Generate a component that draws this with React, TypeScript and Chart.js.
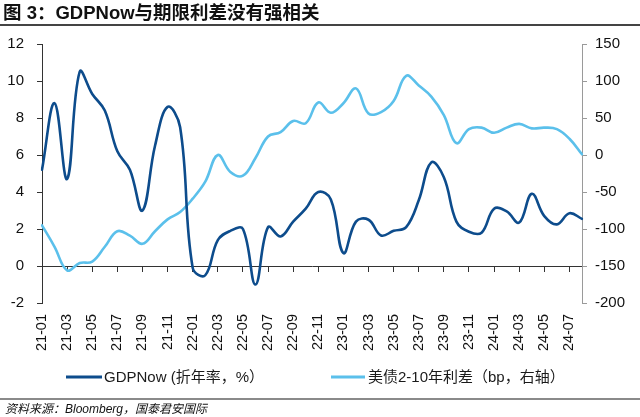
import React, { useEffect, useRef } from "react";
import { Chart, registerables } from "chart.js";

Chart.register(...registerables);

const FONT = "'Liberation Sans', Arial, 'Noto Sans CJK SC', sans-serif";

const months = [
  "21-01", "21-02", "21-03", "21-04", "21-05", "21-06", "21-07", "21-08", "21-09", "21-10", "21-11", "21-12",
  "22-01", "22-02", "22-03", "22-04", "22-05", "22-06", "22-07", "22-08", "22-09", "22-10", "22-11", "22-12",
  "23-01", "23-02", "23-03", "23-04", "23-05", "23-06", "23-07", "23-08", "23-09", "23-10", "23-11", "23-12",
  "24-01", "24-02", "24-03", "24-04", "24-05", "24-06", "24-07", "24-08",
];

const gdpNow = [
  5.2, 8.8, 4.7, 10.5, 9.3, 8.4, 6.2, 5.2, 3.0, 6.5, 8.6, 7.5,
  -0.1, -0.5, 1.4, 1.9, 2.0, -1.0, 2.1, 1.6, 2.4, 3.1, 4.0, 3.6,
  0.7, 2.4, 2.5, 1.65, 1.9, 2.1, 3.55, 5.6, 4.8, 2.4, 1.85, 1.8,
  3.1, 2.95, 2.35, 3.9, 2.7, 2.25, 2.85, 2.55,
];

const spread2s10s = [
  -95, -124, -156, -146, -144, -124, -103, -109, -120, -103, -87, -77,
  -59, -36, 0, -23, -28, -4, 25, 31, 46, 43, 71, 57,
  70, 90, 56, 58, 73, 107, 94, 79, 54, 16, 35, 37,
  30, 37, 42, 36, 37, 35, 22, 1,
];

const leftTicks = { min: -2, max: 12, step: 2 };
const rightTicks = { min: -200, max: 150, step: 50 };

const seriesNames = ["GDPNow (折年率，%）", "美债2-10年利差（bp，右轴）"];
const DARK = "#0D4C8C";
const LIGHT = "#5BC0EB";

const legendPlugin = {
  id: "customLegend",
  afterDraw(chart: any) {
    const ctx = chart.ctx;
    const pos = [
      { x: 66, w: 36, tx: 104 },
      { x: 331, w: 34, tx: 368 },
    ];
    const y = 377;
    ctx.save();
    chart.data.datasets.forEach((ds: any, i: number) => {
      const p = pos[i];
      ctx.strokeStyle = ds.borderColor;
      ctx.lineWidth = 3;
      ctx.beginPath();
      ctx.moveTo(p.x, y);
      ctx.lineTo(p.x + p.w, y);
      ctx.stroke();
      ctx.fillStyle = "#1a1a1a";
      ctx.font = `15px ${FONT}`;
      ctx.textBaseline = "middle";
      ctx.textAlign = "left";
      ctx.fillText(ds.label, p.tx, y + 1);
    });
    ctx.restore();
  },
};

export default function App() {
  const ref = useRef<HTMLCanvasElement>(null);

  useEffect(() => {
    const yFont = { family: FONT, size: 15 };
    const xFont = { family: FONT, size: 14.5 };
    const chart = new Chart(ref.current!, {
      type: "line",
      data: {
        labels: months,
        datasets: [
          {
            label: seriesNames[0],
            data: gdpNow,
            borderColor: DARK,
            backgroundColor: DARK,
            yAxisID: "y",
            xAxisID: "x",
          },
          {
            label: seriesNames[1],
            data: spread2s10s,
            borderColor: LIGHT,
            backgroundColor: LIGHT,
            yAxisID: "y1",
            xAxisID: "x",
          },
        ],
      },
      options: {
        animation: false,
        responsive: false,
        devicePixelRatio: 1,
        layout: { padding: { top: 44, bottom: 54, left: 0, right: 0 } },
        plugins: {
          legend: { display: false },
          tooltip: { enabled: false },
        },
        elements: {
          point: { radius: 0 },
          line: { tension: 0.4, borderWidth: 2.6, borderCapStyle: "round", borderJoinStyle: "round" },
        },
        scales: {
          x: {
            type: "category",
            position: "bottom",
            grid: { display: false, drawTicks: false },
            border: { display: false },
            ticks: {
              autoSkip: false,
              maxRotation: 90,
              minRotation: 90,
              padding: 11,
              font: xFont,
              color: "#111",
              callback: (_v: any, i: number) => (i % 2 === 0 ? months[i] : ""),
            },
            afterFit: (s: any) => {
              s.height = 60;
            },
          },
          x0: {
            type: "category",
            position: { y: 0 },
            ticks: { display: false, autoSkip: false },
            grid: {
              drawOnChartArea: false,
              drawTicks: true,
              tickLength: 5,
              color: (c: any) => (c.index % 2 === 0 ? "#333" : "rgba(0,0,0,0)"),
            },
            border: { display: true, color: "#333", width: 1 },
          },
          y: {
            position: "left",
            min: leftTicks.min,
            max: leftTicks.max,
            ticks: { stepSize: leftTicks.step, padding: 13, font: yFont, color: "#111" },
            grid: { drawOnChartArea: false, tickLength: 5, color: "#333" },
            border: { display: true, color: "#333", width: 1 },
            afterFit: (s: any) => {
              s.width = 42;
            },
          },
          y1: {
            position: "right",
            min: rightTicks.min,
            max: rightTicks.max,
            ticks: { stepSize: rightTicks.step, padding: 8, font: yFont, color: "#111" },
            grid: { drawOnChartArea: false, tickLength: 5, color: "#9a9a9a" },
            border: { display: true, color: "#9a9a9a", width: 1 },
            afterFit: (s: any) => {
              s.width = 58;
            },
          },
        },
      } as any,
      plugins: [legendPlugin],
    });
    return () => chart.destroy();
  }, []);

  return (
    <div
      style={{
        position: "absolute",
        left: 0,
        top: 0,
        width: 640,
        height: 417,
        background: "#fff",
        fontFamily: FONT,
        color: "#111",
        overflow: "hidden",
      }}
    >
      <canvas
        ref={ref}
        width={640}
        height={417}
        style={{ position: "absolute", left: 0, top: 0, width: 640, height: 417 }}
      />
      <div
        style={{
          position: "absolute",
          left: 3,
          top: 1,
          fontSize: 18.5,
          fontWeight: "bold",
          lineHeight: "24px",
          whiteSpace: "nowrap",
        }}
      >
        图 3：GDPNow与期限利差没有强相关
      </div>
      <div style={{ position: "absolute", left: 0, top: 24, width: 640, height: 2, background: "#444" }} />
      <div style={{ position: "absolute", left: 0, top: 398, width: 640, height: 2, background: "#8a8a8a" }} />
      <div
        style={{
          position: "absolute",
          left: 5,
          top: 401,
          fontSize: 12,
          fontStyle: "italic",
          lineHeight: "16px",
          whiteSpace: "nowrap",
        }}
      >
        资料来源：Bloomberg，国泰君安国际
      </div>
    </div>
  );
}
